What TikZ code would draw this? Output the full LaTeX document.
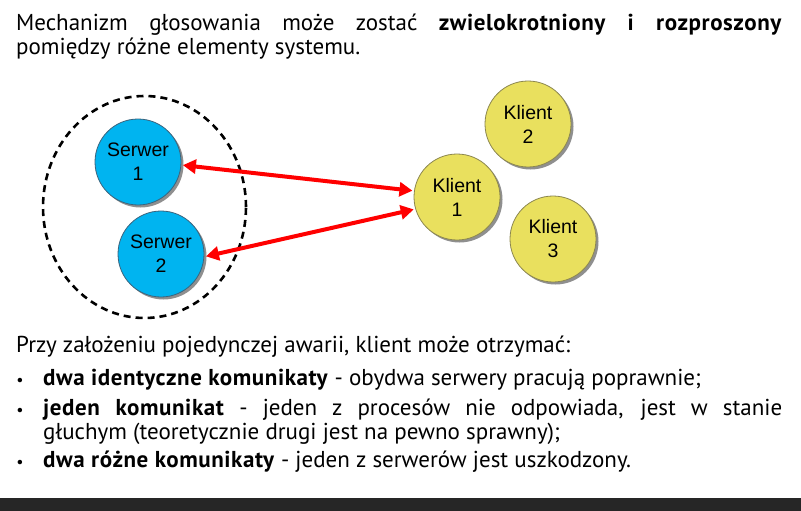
\documentclass[tikz,border=0pt]{standalone}
\usepackage{fontspec}
\setmainfont{PT Sans}
\newfontfamily\labelfont{Liberation Sans}
\usetikzlibrary{arrows.meta,shapes.geometric,shadows}

\definecolor{serverfill}{RGB}{0,180,240}
\definecolor{serverline}{RGB}{60,100,125}
\definecolor{clientfill}{RGB}{233,224,94}
\definecolor{clientline}{RGB}{140,135,80}
\definecolor{barcolor}{RGB}{38,38,38}
\definecolor{linkred}{RGB}{255,0,0}

% bold key phrases, set slightly wider
\newcommand\keyphrase[1]{\textbf{\addfontfeatures{LetterSpace=2.5}#1}}

\tikzset{
  x=1pt, y=-1pt,
  machine/.style={circle, minimum size=86pt, inner sep=0pt, outer sep=2pt,
    line width=0.8pt, align=center,
    font=\labelfont\fontsize{19.5}{24}\selectfont,
    drop shadow={shadow xshift=2.5pt, shadow yshift=-2.5pt, fill=black!55, opacity=0.8}},
  server/.style={machine, draw=serverline, fill=serverfill},
  client/.style={machine, draw=clientline, fill=clientfill},
  link/.style={draw=linkred, line width=4pt,
    {Triangle[length=13pt,width=14pt]}-{Triangle[length=13pt,width=14pt]}},
  group/.style={ellipse, draw=black, line width=2.6pt, dash pattern=on 7pt off 5pt,
    minimum width=203pt, minimum height=222pt, inner sep=0pt},
  textline/.style={anchor=base west, inner sep=0pt, font=\fontsize{23}{24}\selectfont},
  bulletmark/.style={anchor=base, inner sep=0pt, font=\fontsize{16}{24}\selectfont},
}

\begin{document}
\begin{tikzpicture}
  \useasboundingbox (0,0) rectangle (801,511);
  \fill[white] (0,0) rectangle (801,511);

  % footer bar
  \fill[barcolor] (0,498) rectangle (801,511);

  % heading paragraph
  \node[textline] (intro) at (16,31) {\parbox[t]{766pt}{\hyphenpenalty=10000
    Mechanizm głosowania może zostać \keyphrase{zwielokrotniony i rozproszony}\linebreak
    pomiędzy różne elementy systemu.}};

  % replicated servers inside the dashed group
  \node[group] (grp) at (144.5,207) {};
  \node[server] (s1) at (138,162) {Serwer\\1};
  \node[server] (s2) at (161,254) {Serwer\\2};

  % clients
  \node[client] (k2) at (528,124) {Klient\\2};
  \node[client] (k1) at (457,197) {Klient\\1};
  \node[client] (k3) at (553,239) {Klient\\3};

  % two-way links between client 1 and the servers
  \draw[link] (s1.-4) -- (k1.172);
  \draw[link] (s2.-3) -- (k1.196);

  % failure cases
  \node[textline] (lead) at (16,352) {Przy założeniu pojedynczej awarii, klient może otrzymać:};

  \node[bulletmark] (d1) at (20,385) {•};
  \node[textline] (c1) at (43,385) {\parbox[t]{739pt}{\hyphenpenalty=10000
    \keyphrase{dwa identyczne komunikaty} - obydwa serwery pracują poprawnie;}};

  \node[bulletmark] (d2) at (20,415) {•};
  \node[textline] (c2) at (43,415) {\parbox[t]{739pt}{\hyphenpenalty=10000
    \keyphrase{jeden komunikat} - jeden z procesów nie odpowiada, jest w stanie\linebreak
    głuchym (teoretycznie drugi jest na pewno sprawny);}};

  \node[bulletmark] (d3) at (20,467) {•};
  \node[textline] (c3) at (43,467) {\parbox[t]{739pt}{\hyphenpenalty=10000
    \keyphrase{dwa różne komunikaty} - jeden z serwerów jest uszkodzony.}};
\end{tikzpicture}
\end{document}
